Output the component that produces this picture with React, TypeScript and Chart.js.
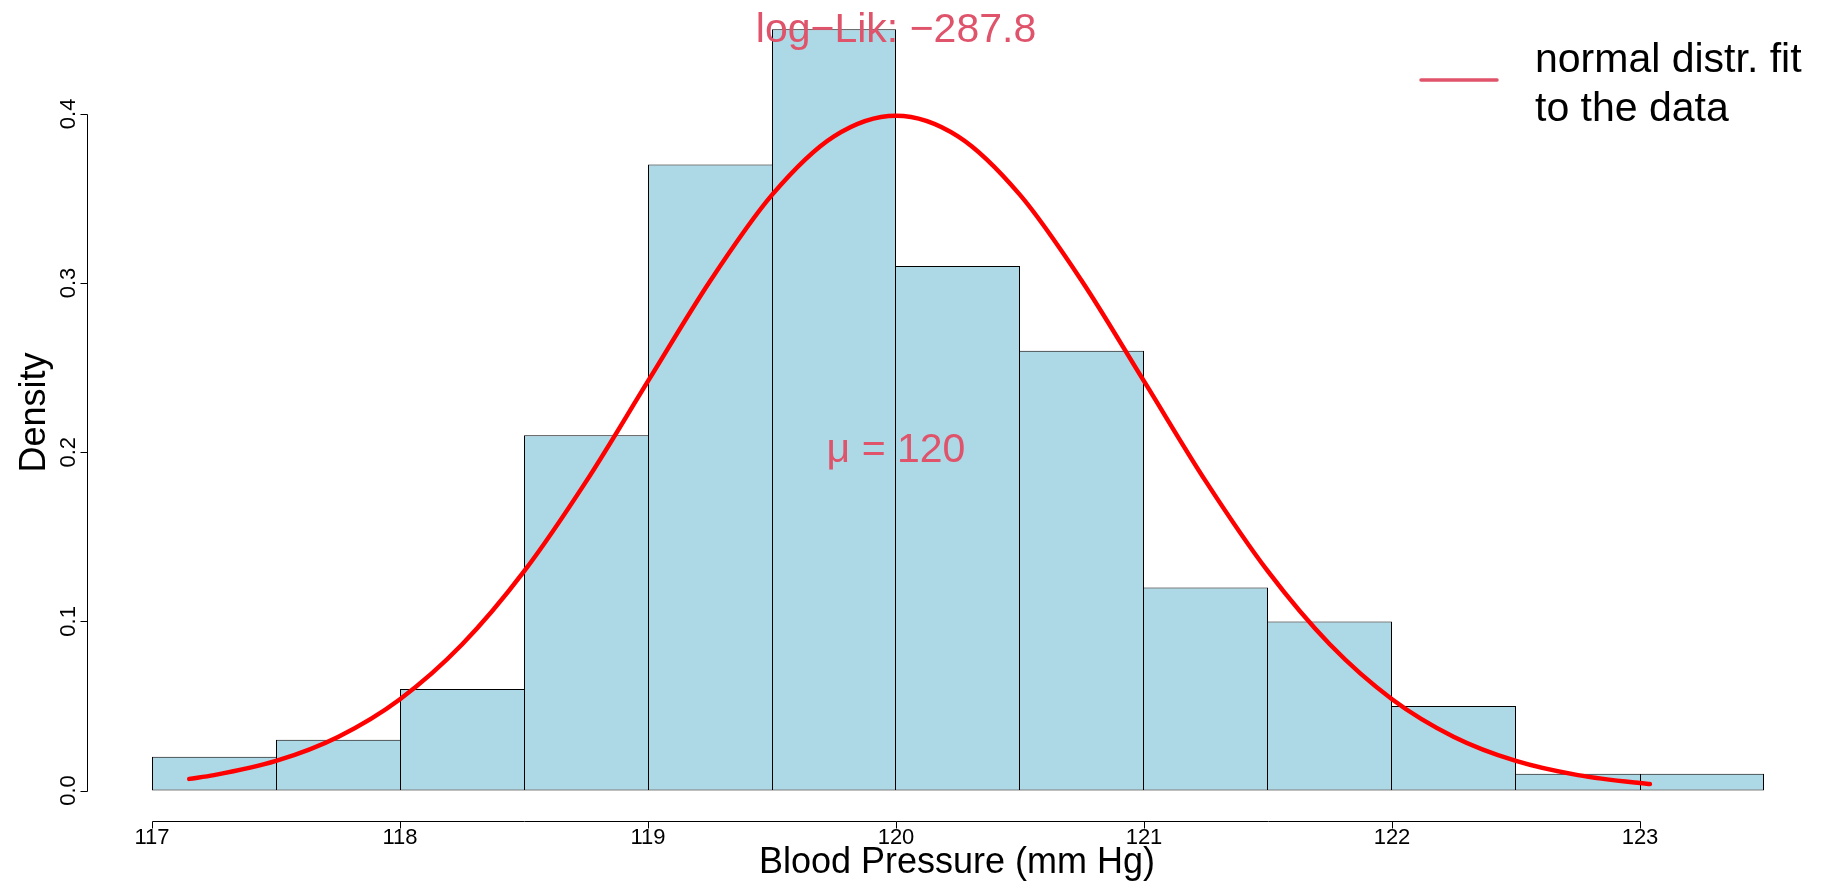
import React, { useEffect, useRef } from "react";
import { Chart, registerables } from "chart.js";

Chart.register(...registerables);

// Histogram bins (midpoints, width 0.5) and density heights
const binMids = [117.25, 117.75, 118.25, 118.75, 119.25, 119.75, 120.25, 120.75, 121.25, 121.75, 122.25, 122.75, 123.25];
const densities = [0.02, 0.03, 0.06, 0.21, 0.37, 0.45, 0.31, 0.26, 0.12, 0.10, 0.05, 0.01, 0.01];

// Fitted normal curve
const curveX = [117.15, 117.25, 117.5, 117.75, 118, 118.25, 118.5, 118.75, 119, 119.25, 119.5, 119.75, 120, 120.25, 120.5, 120.75, 121, 121.25, 121.5, 121.75, 122, 122.25, 122.5, 122.75, 123, 123.04];
const curveY = [0.0069, 0.0091, 0.0175, 0.0317, 0.054, 0.0863, 0.1295, 0.1826, 0.242, 0.3011, 0.3521, 0.3867, 0.3989, 0.3867, 0.3521, 0.3011, 0.242, 0.1826, 0.1295, 0.0863, 0.054, 0.0317, 0.0175, 0.0091, 0.0044, 0.0039];

// Axis ticks
const xTicks = [117, 118, 119, 120, 121, 122, 123];
const xTickLabels = ["117", "118", "119", "120", "121", "122", "123"];
const yTicks = [0, 0.1, 0.2, 0.3, 0.4];
const yTickLabels = ["0.0", "0.1", "0.2", "0.3", "0.4"];

// Texts
const xTitle = "Blood Pressure (mm Hg)";
const yTitle = "Density";
const topNote = "log\u2212Lik: \u2212287.8";
const muNote = "\u03bc = 120";
const muPos = [120, 0.2];
const legendLines = ["normal distr. fit", "to the data"];

const FONT = '"Liberation Sans", Arial, Helvetica, sans-serif';
const NOTE_COLOR = "#DF536B";

const rDecor = {
  id: "rDecor",
  afterDatasetsDraw(chart: any) {
    const { ctx, chartArea } = chart;
    const x = chart.scales.x;
    const y = chart.scales.y;
    ctx.save();

    // axes
    ctx.strokeStyle = "#000";
    ctx.lineWidth = 1;
    const xb = Math.round(chartArea.bottom) + 0.5;
    ctx.beginPath();
    ctx.moveTo(Math.round(x.getPixelForValue(xTicks[0])) + 0.5, xb);
    ctx.lineTo(Math.round(x.getPixelForValue(xTicks[xTicks.length - 1])) + 0.5, xb);
    xTicks.forEach((v) => {
      const px = Math.round(x.getPixelForValue(v)) + 0.5;
      ctx.moveTo(px, xb);
      ctx.lineTo(px, xb + 7);
    });
    const yl = Math.round(chartArea.left) + 0.5;
    ctx.moveTo(yl, Math.round(y.getPixelForValue(yTicks[0])) + 0.5);
    ctx.lineTo(yl, Math.round(y.getPixelForValue(yTicks[yTicks.length - 1])) + 0.5);
    yTicks.forEach((v) => {
      const py = Math.round(y.getPixelForValue(v)) + 0.5;
      ctx.moveTo(yl, py);
      ctx.lineTo(yl - 7, py);
    });
    ctx.stroke();

    // tick labels
    ctx.fillStyle = "#000";
    ctx.font = `22px ${FONT}`;
    ctx.textAlign = "center";
    ctx.textBaseline = "alphabetic";
    xTicks.forEach((v, i) => {
      ctx.fillText(xTickLabels[i], x.getPixelForValue(v), 844);
    });
    yTicks.forEach((v, i) => {
      ctx.save();
      ctx.translate(75, y.getPixelForValue(v));
      ctx.rotate(-Math.PI / 2);
      ctx.fillText(yTickLabels[i], 0, 0);
      ctx.restore();
    });

    // axis titles
    ctx.font = `36px ${FONT}`;
    ctx.fillText(xTitle, (chartArea.left + 1827) / 2, 873);
    ctx.save();
    ctx.translate(45, (chartArea.top + chartArea.bottom) / 2 + 2);
    ctx.rotate(-Math.PI / 2);
    ctx.fillText(yTitle, 0, 0);
    ctx.restore();

    // notes
    ctx.fillStyle = NOTE_COLOR;
    ctx.font = `41px ${FONT}`;
    ctx.fillText(topNote, x.getPixelForValue(120), 42);
    ctx.textBaseline = "middle";
    ctx.fillText(muNote, x.getPixelForValue(muPos[0]), y.getPixelForValue(muPos[1]) - 2);

    // legend
    ctx.strokeStyle = NOTE_COLOR;
    ctx.lineWidth = 3.5;
    ctx.lineCap = "round";
    ctx.beginPath();
    ctx.moveTo(1421, 80);
    ctx.lineTo(1497, 80);
    ctx.stroke();
    ctx.fillStyle = "#000";
    ctx.textAlign = "left";
    ctx.textBaseline = "alphabetic";
    ctx.fillText(legendLines[0], 1535, 72);
    ctx.fillText(legendLines[1], 1535, 121);

    ctx.restore();
  },
};

export default function App() {
  const canvasRef = useRef<HTMLCanvasElement | null>(null);

  useEffect(() => {
    document.body.style.margin = "0";
    document.body.style.overflow = "hidden";
    const canvas = canvasRef.current;
    if (!canvas) return;
    const last = densities.length - 1;
    const chart = new Chart(canvas, {
      type: "bar",
      data: {
        datasets: [
          {
            type: "line",
            data: curveX.map((v, i) => ({ x: v, y: curveY[i] })),
            borderColor: "#FF0000",
            borderWidth: 4.5,
            borderCapStyle: "round",
            borderJoinStyle: "round",
            pointRadius: 0,
            cubicInterpolationMode: "monotone",
            fill: false,
            order: 0,
          } as any,
          {
            type: "bar",
            data: binMids.map((v, i) => ({ x: v, y: densities[i] })),
            backgroundColor: "#ADD8E6",
            borderColor: "#000000",
            borderSkipped: false,
            inflateAmount: 0,
            borderWidth: (c: any) => {
              const i = c.dataIndex;
              return {
                top: 1,
                bottom: 1,
                left: i === 0 || densities[i - 1] <= densities[i] ? 1 : 0,
                right: i === last || densities[i + 1] < densities[i] ? 1 : 0,
              };
            },
            barPercentage: 1,
            categoryPercentage: 1,
            order: 1,
          } as any,
        ],
      },
      options: {
        responsive: false,
        animation: false,
        events: [],
        layout: { padding: { left: 87, right: 0, top: 0, bottom: 64 } },
        plugins: { legend: { display: false }, tooltip: { enabled: false } },
        scales: {
          x: {
            type: "linear",
            min: 117 - 65 / 248,
            max: 117 - 65 / 248 + 1737 / 248,
            offset: false,
            display: false,
            afterBuildTicks: (s: any) => {
              s.ticks = binMids.map((v) => ({ value: v }));
            },
          },
          y: { type: "linear", min: -0.018, max: 0.4673, display: false },
        },
      },
      plugins: [rDecor],
    });
    return () => chart.destroy();
  }, []);

  return (
    <div style={{ width: 1824, height: 885, background: "#fff" }}>
      <canvas ref={canvasRef} width={1824} height={885} style={{ display: "block" }} />
    </div>
  );
}
